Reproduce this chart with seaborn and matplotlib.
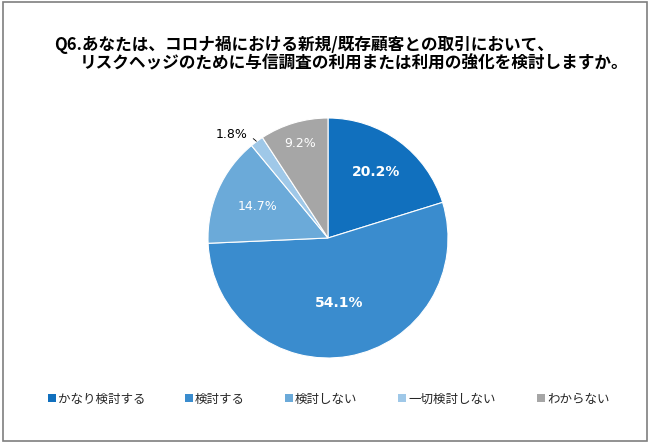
import numpy as np
import matplotlib
matplotlib.use('Agg')
import matplotlib.pyplot as plt
import seaborn as sns
from matplotlib.patches import Rectangle

sns.set_theme(style='white')
plt.rcParams['font.family'] = ['Noto Sans CJK JP', 'DejaVu Sans']

# --- データ ---
labels = ['かなり検討する', '検討する', '検討しない', '一切検討しない', 'わからない']
values = [20.2, 54.1, 14.7, 1.8, 9.2]
colors = ['#1170BE', '#3A8CCE', '#6BAAD9', '#9FC8E8', '#A6A6A6']
title_lines = ['Q6.あなたは、コロナ禍における新規/既存顧客との取引において、',
               'リスクヘッジのために与信調査の利用または利用の強化を検討しますか。']

W, H = 650, 444
fig = plt.figure(figsize=(6.5, 4.44), dpi=100)
fig.patch.set_facecolor('white')
fig.patches.append(Rectangle((0.004, 0.006), 0.992, 0.99, transform=fig.transFigure,
                             fill=False, edgecolor='#7F7F7F', linewidth=1.2))

fig.text(54 / W, 1 - 45 / H, title_lines[0], fontsize=12, fontweight='bold',
         va='center', ha='left', color='black')
fig.text(80 / W, 1 - 63 / H, title_lines[1], fontsize=12, fontweight='bold',
         va='center', ha='left', color='black')

ax = fig.add_axes([208 / W, (H - 358) / H, 240 / W, 240 / H])
wedges, _ = ax.pie(values, colors=colors, startangle=90, counterclock=False,
                   wedgeprops=dict(edgecolor='white', linewidth=0.8))
ax.set_xlim(-1, 1)
ax.set_ylim(-1, 1)
ax.set_aspect('equal')

# ラベル位置（半径比）と太字
label_r = [0.68, 0.55, 0.64, None, 0.82]
bold = [True, True, False, False, False]
for w, v, r, b in zip(wedges, values, label_r, bold):
    if r is None:
        continue
    ang = np.deg2rad((w.theta1 + w.theta2) / 2)
    ax.text(r * np.cos(ang), r * np.sin(ang), f'{v}%', ha='center', va='center',
            color='white', fontsize=10 if b else 9,
            fontweight='bold' if b else 'normal', family='DejaVu Sans')

# 1.8% は外側に引き出し線
w = wedges[3]
ang = np.deg2rad((w.theta1 + w.theta2) / 2)
ax.annotate(f'{values[3]}%', xy=(np.cos(ang) * 0.98, np.sin(ang) * 0.98),
            xytext=(-0.67, 0.86), ha='right', va='center', fontsize=9,
            family='DejaVu Sans', color='black',
            arrowprops=dict(arrowstyle='-', color='black', lw=0.6,
                            connectionstyle='arc3,rad=-0.3'))

# 凡例（手動配置、ベースラインでそろえる）
leg_x = [48, 185, 285, 398, 537]
leg_y = 398
for x, c, lab in zip(leg_x, colors, labels):
    fig.patches.append(Rectangle((x / W, 1 - (leg_y + 4) / H), 8 / W, 8 / H,
                                 transform=fig.transFigure, facecolor=c,
                                 edgecolor='none'))
    fig.text((x + 10) / W, 1 - (leg_y + 5) / H, lab, fontsize=9, va='baseline',
             ha='left', color='#262626')

fig.savefig('out.png', dpi=100, facecolor='white')
